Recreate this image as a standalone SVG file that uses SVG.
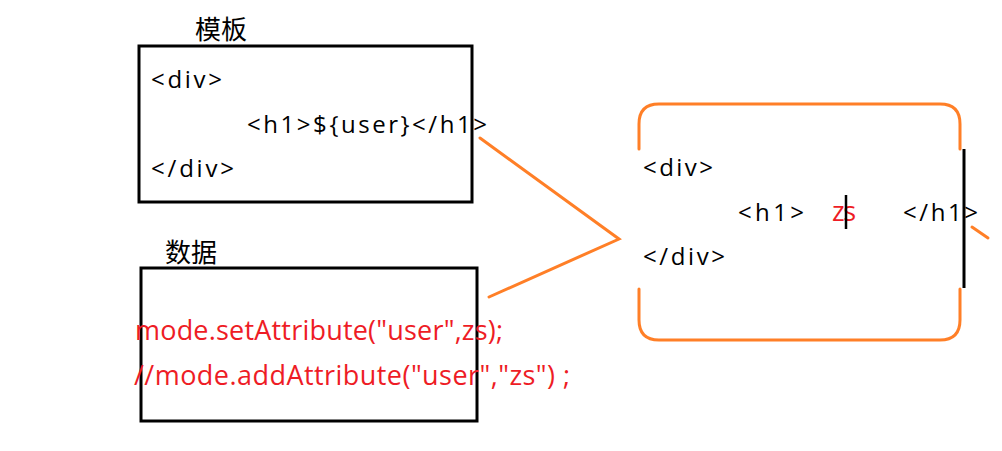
<svg xmlns="http://www.w3.org/2000/svg" width="1002" height="451" viewBox="0 0 1002 451">
<style>
.box{fill:none;stroke:#000;stroke-width:3}
.conn{fill:none;stroke:#FF7F27;stroke-width:3;stroke-linecap:round}
.cjk{font-family:"Noto Sans CJK SC","Noto Sans",sans-serif;font-size:26px;fill:#000}
.code{font-family:"Open Sans","Noto Sans",sans-serif;font-size:24px;fill:#000}
.red{font-family:"Open Sans","Noto Sans",sans-serif;font-size:27px;fill:#EE1C25}
</style>
<rect width="1002" height="451" fill="#fff"/>
<g id="template">
<text class="cjk" x="195" y="39">模板</text>
<rect class="box" x="139" y="46" width="333" height="156"/>
<text class="code" x="151" y="88" textLength="71">&lt;div&gt;</text>
<text class="code" x="247" y="133" textLength="240">&lt;h1&gt;${user}&lt;/h1&gt;</text>
<text class="code" x="151" y="177" textLength="83">&lt;/div&gt;</text>
</g>
<g id="data">
<text class="cjk" x="165" y="262">数据</text>
<rect class="box" x="141" y="268" width="336" height="153"/>
<text class="red" x="135" y="340" textLength="368">mode.setAttribute("user",zs);</text>
<text class="red" x="134" y="385" textLength="436">//mode.addAttribute("user","zs") ;</text>
</g>
<g id="connectors">
<polyline class="conn" points="480,138 619,239 489,297"/>
<line class="conn" x1="972" y1="227" x2="988" y2="238"/>
</g>
<g id="result">
<path class="conn" d="M639,149 V124 Q639,104 659,104 H940 Q960,104 960,124 V149"/>
<path class="conn" d="M639,289 V320 Q639,340 659,340 H940 Q960,340 960,320 V289"/>
<line x1="964" y1="149" x2="964" y2="288" stroke="#000" stroke-width="3"/>
<text class="code" x="643" y="176" textLength="70">&lt;div&gt;</text>
<text class="code" x="738" y="221" textLength="66">&lt;h1&gt;</text>
<text class="red" x="832" y="221" font-size="25" textLength="24">zs</text>
<line x1="846" y1="195" x2="846" y2="229" stroke="#000" stroke-width="2.5"/>
<text class="code" x="903" y="221" textLength="75">&lt;/h1&gt;</text>
<text class="code" x="643" y="265" textLength="82">&lt;/div&gt;</text>
</g>
</svg>
